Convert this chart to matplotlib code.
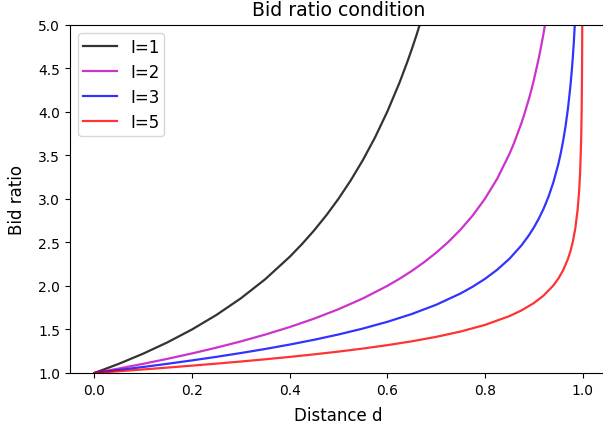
import matplotlib
matplotlib.use("Agg")
import matplotlib.pyplot as plt

# Distance values and bid ratios
d_I1 = [0, 0.05, 0.10, 0.15, 0.20, 0.25, 0.30, 0.35, 0.40, 0.425, 0.45, 0.475, 0.50, 0.525, 0.55, 0.575,
        0.60, 0.625, 0.64, 0.65, 0.66, 0.675]
r_I1 = [1.0, 1.1053, 1.2222, 1.3529, 1.5, 1.6667, 1.8571, 2.0769, 2.3333, 2.4783, 2.6364, 2.8095, 3.0,
        3.2105, 3.4444, 3.7059, 4.0, 4.3333, 4.5556, 4.7143, 4.8824, 5.1538]

d_I2 = [0, 0.05, 0.10, 0.15, 0.20, 0.25, 0.30, 0.35, 0.40, 0.45, 0.50, 0.55, 0.60, 0.625, 0.65, 0.675,
        0.70, 0.725, 0.75, 0.775, 0.80, 0.825, 0.85, 0.86, 0.875, 0.88, 0.89, 0.895, 0.90, 0.91, 0.915,
        0.92, 0.925]
r_I2 = [1.0, 1.0513, 1.1055, 1.1632, 1.2247, 1.2910, 1.3628, 1.4412, 1.5275, 1.6237, 1.7321, 1.8559, 2.0,
        2.0817, 2.1712, 2.2702, 2.3805, 2.5045, 2.6458, 2.8087, 3.0, 3.2293, 3.5119, 3.6450, 3.8730,
        3.9581, 4.1451, 4.2483, 4.3589, 4.6068, 4.7465, 4.8990, 5.0662]

d_I3 = [0, 0.05, 0.10, 0.15, 0.20, 0.25, 0.30, 0.35, 0.40, 0.45, 0.50, 0.55, 0.60, 0.65, 0.70, 0.75, 0.775,
        0.80, 0.825, 0.85, 0.875, 0.89, 0.90, 0.91, 0.92, 0.93, 0.94, 0.95, 0.955, 0.96, 0.965, 0.97,
        0.975, 0.978, 0.98, 0.982, 0.985]
r_I3 = [1.0, 1.0339, 1.0692, 1.1060, 1.1447, 1.1856, 1.2292, 1.2759, 1.3264, 1.3814, 1.4422, 1.5103, 1.5874,
        1.6768, 1.7829, 1.9129, 1.9908, 2.0801, 2.1849, 2.3104, 2.4662, 2.5804, 2.6684, 2.7687, 2.8845,
        3.0210, 3.1858, 3.3912, 3.5156, 3.6593, 3.8292, 4.0346, 4.2908, 4.4800, 4.6261, 4.7930, 5.0959]

d_I5 = [0, 0.05, 0.10, 0.15, 0.20, 0.25, 0.30, 0.35, 0.40, 0.45, 0.50, 0.55, 0.60, 0.65, 0.70, 0.75, 0.80,
        0.85, 0.875, 0.90, 0.92, 0.94, 0.95, 0.96, 0.97, 0.975, 0.98, 0.985, 0.99, 0.993, 0.995, 0.997,
        0.9975, 0.998, 0.9985, 0.999, 0.9995]
r_I5 = [1.0, 1.0202, 1.0410, 1.0623, 1.0845, 1.1076, 1.1318, 1.1574, 1.1847, 1.2140, 1.2457, 1.2807, 1.3195,
        1.3636, 1.4147, 1.4758, 1.5518, 1.6528, 1.7188, 1.8020, 1.8882, 2.0041, 2.0807, 2.1779, 2.3092,
        2.3962, 2.5068, 2.6566, 2.8825, 3.0966, 3.3128, 3.6700, 3.8064, 3.9804, 4.2163, 4.5728, 5.2524]

labels = ["I=1", "I=2", "I=3", "I=5"]
colors = ["k", "m", "b", "r"]

fig = plt.figure(figsize=(6.03, 4.27), dpi=100)
# axes extend slightly past the right edge of the picture (reference is cropped there)
ax = fig.add_axes([70 / 603, 1 - 374 / 427, 537 / 603, (374 - 25.5) / 427])
for x, y, lab, c in zip([d_I1, d_I2, d_I3, d_I5], [r_I1, r_I2, r_I3, r_I5], labels, colors):
    ax.plot(x, y, color=c, alpha=0.8, lw=1.6, label=lab)
ax.set_xlim(-0.05, 1.05)
ax.set_ylim(1, 5)
ax.set_title("Bid ratio condition", fontsize=13.6, pad=7)
ax.set_xlabel("Distance d", fontsize=12, labelpad=6.5)
ax.set_ylabel("Bid ratio", fontsize=12, labelpad=8.5)
ax.legend(loc="upper left", fontsize=12, handlelength=2.0, borderpad=0.3, labelspacing=0.42)
fig.savefig("out.png", dpi=100)
